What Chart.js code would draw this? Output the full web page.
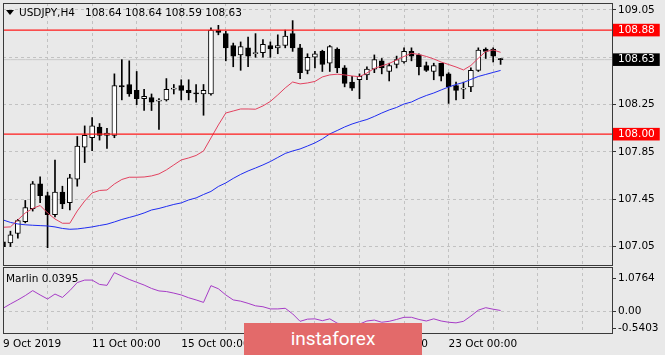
<!DOCTYPE html>
<html>
<head>
<meta charset="utf-8">
<title>USDJPY H4</title>
<script src="https://cdn.jsdelivr.net/npm/chart.js@4.4.1/dist/chart.umd.min.js"></script>
<style>
  html, body { margin: 0; padding: 0; background: #e9e9e9; }
  #wrap { position: relative; width: 665px; height: 355px; overflow: hidden; }
  canvas { position: absolute; left: 0; }
  #main { top: 0; }
  #sub { top: 266px; }
  .txt { position: absolute; font: 10.5px 'DejaVu Sans', sans-serif; color: #000; white-space: pre; line-height: 13px; }
  #tri { position: absolute; left: 6px; top: 10px; width: 0; height: 0;
         border-left: 4px solid transparent; border-right: 4px solid transparent; border-top: 5px solid #000; }
  #brand { position: absolute; left: 244px; top: 323px; width: 178px; height: 33px;
           background: #e36a6a; color: #fff; font: 19px Roboto, sans-serif;
           text-align: center; line-height: 32px; }
</style>
</head>
<body>
<div id="wrap">
  <canvas id="main" width="665" height="266"></canvas>
  <canvas id="sub" width="665" height="89"></canvas>
  <div id="tri"></div>
  <div class="txt" id="symbol" style="left:19px; top:6px;">USDJPY,H4</div>
  <div class="txt" id="ohlc" style="left:85px; top:6px;"></div>
  <div class="txt" id="osc" style="left:6px; top:272px;"></div>
  <div id="brand">instaforex</div>
</div>
<script>
// 68 H4 bars, plus empty slots to the right edge of the chart
const slotCount = 83;
const slots = Array.from({ length: slotCount }, (_, i) => i);

const opens = [107.09, 107.08, 107.16, 107.26, 107.37, 107.58, 107.48, 107.32, 107.51, 107.42,
  107.62, 107.89, 107.97, 108.06, 107.99, 107.99, 108.41, 108.42, 108.37, 108.30,
  108.31, 108.28, 108.29, 108.38, 108.41, 108.37, 108.35, 108.34, 108.34, 108.88,
  108.85, 108.75, 108.67, 108.73, 108.68, 108.69, 108.75, 108.73, 108.75, 108.85,
  108.73, 108.54, 108.65, 108.70, 108.60, 108.72, 108.56, 108.44, 108.46, 108.50,
  108.55, 108.62, 108.53, 108.59, 108.61, 108.70, 108.67, 108.58, 108.53, 108.60,
  108.51, 108.41, 108.38, 108.40, 108.54, 108.72, 108.72, 108.64];
const highs = [107.10, 107.18, 107.28, 107.44, 107.60, 107.64, 107.51, 107.78, 107.56, 107.66,
  107.98, 108.07, 108.14, 108.09, 108.05, 108.51, 108.63, 108.62, 108.53, 108.38,
  108.34, 108.30, 108.47, 108.42, 108.46, 108.46, 108.42, 108.42, 108.90, 108.92,
  108.87, 108.77, 108.78, 108.82, 108.85, 108.80, 108.78, 108.84, 108.88, 108.96,
  108.76, 108.68, 108.70, 108.71, 108.75, 108.73, 108.58, 108.49, 108.51, 108.57,
  108.67, 108.64, 108.60, 108.66, 108.73, 108.73, 108.68, 108.61, 108.60, 108.60,
  108.52, 108.44, 108.44, 108.56, 108.73, 108.73, 108.73, 108.64];
const lows = [106.94, 107.05, 107.12, 107.25, 107.35, 107.42, 107.04, 107.30, 107.37, 107.36,
  107.56, 107.76, 107.86, 107.95, 107.88, 107.97, 108.29, 108.32, 108.25, 108.20,
  108.20, 108.04, 108.28, 108.34, 108.29, 108.29, 108.27, 108.16, 108.33, 108.84,
  108.62, 108.57, 108.54, 108.57, 108.65, 108.65, 108.65, 108.68, 108.73, 108.70,
  108.47, 108.51, 108.56, 108.53, 108.53, 108.52, 108.40, 108.37, 108.30, 108.46,
  108.52, 108.51, 108.45, 108.56, 108.60, 108.62, 108.50, 108.53, 108.46, 108.45,
  108.26, 108.29, 108.30, 108.36, 108.53, 108.64, 108.61, 108.59];
const closes = [107.05, 107.15, 107.27, 107.38, 107.58, 107.48, 107.32, 107.51, 107.41, 107.63,
  107.90, 107.99, 108.07, 107.99, 108.01, 108.41, 108.40, 108.34, 108.30, 108.32,
  108.27, 108.28, 108.38, 108.39, 108.37, 108.35, 108.34, 108.37, 108.88, 108.86,
  108.73, 108.66, 108.74, 108.66, 108.69, 108.76, 108.72, 108.75, 108.83, 108.73,
  108.52, 108.65, 108.68, 108.59, 108.74, 108.56, 108.43, 108.39, 108.49, 108.55,
  108.63, 108.56, 108.58, 108.63, 108.70, 108.66, 108.57, 108.54, 108.58, 108.49,
  108.40, 108.37, 108.39, 108.54, 108.71, 108.70, 108.66, 108.63];

// moving averages (red = fast, blue = slow)
const fastMA = [107.213, 107.216, 107.275, 107.334, 107.372, 107.397, 107.334, 107.283, 107.247, 107.247,
  107.351, 107.435, 107.503, 107.524, 107.528, 107.579, 107.617, 107.636, 107.636, 107.638,
  107.647, 107.664, 107.698, 107.740, 107.782, 107.799, 107.820, 107.858, 107.968, 108.078,
  108.179, 108.196, 108.213, 108.213, 108.211, 108.239, 108.277, 108.332, 108.391, 108.441,
  108.425, 108.433, 108.446, 108.484, 108.501, 108.507, 108.501, 108.492, 108.486, 108.517,
  108.556, 108.577, 108.598, 108.627, 108.657, 108.684, 108.674, 108.657, 108.636, 108.610,
  108.589, 108.568, 108.543, 108.581, 108.642, 108.699, 108.712, 108.692];
const slowMA = [107.275, 107.254, 107.241, 107.234, 107.230, 107.227, 107.224, 107.216, 107.203, 107.196,
  107.199, 107.207, 107.216, 107.228, 107.239, 107.258, 107.279, 107.296, 107.313, 107.334,
  107.359, 107.372, 107.389, 107.406, 107.419, 107.444, 107.461, 107.490, 107.516, 107.558,
  107.588, 107.626, 107.660, 107.689, 107.714, 107.740, 107.769, 107.803, 107.837, 107.858,
  107.875, 107.900, 107.926, 107.960, 108.002, 108.031, 108.061, 108.086, 108.106, 108.124,
  108.150, 108.179, 108.205, 108.226, 108.255, 108.272, 108.302, 108.327, 108.348, 108.374,
  108.399, 108.420, 108.437, 108.463, 108.488, 108.505, 108.522, 108.539];

const marlin = [0.11, 0.25, 0.38, 0.52, 0.68, 0.54, 0.41, 0.57, 0.46, 0.68,
  0.94, 1.02, 1.02, 0.88, 0.85, 1.26, 1.15, 1.04, 0.95, 0.86,
  0.75, 0.67, 0.65, 0.60, 0.54, 0.45, 0.38, 0.30, 0.84, 0.74,
  0.54, 0.38, 0.34, 0.27, 0.19, 0.16, 0.09, 0.09, 0.11, -0.07,
  -0.31, -0.24, -0.23, -0.29, -0.23, -0.37, -0.42, -0.45, -0.40, -0.30,
  -0.27, -0.34, -0.31, -0.25, -0.18, -0.18, -0.25, -0.30, -0.23, -0.30,
  -0.34, -0.36, -0.31, -0.14, 0.05, 0.13, 0.08, 0.0395];

const levels = [108.88, 108.00];
const priceTicks = [109.05, 108.65, 108.25, 107.85, 107.45, 107.05];
const marlinTicks = [1.0764, 0, -0.5403];
const marlinTickText = ['1.0764', '0.00', '-0.5403'];
const dateTickIdx = [0, 12, 24, 36, 48, 60];
const dateTickText = ['9 Oct 2019', '11 Oct 00:00', '15 Oct 00:00', '17 Oct 00:00', '21 Oct 00:00', '23 Oct 00:00'];

const last = closes.length - 1;
const lastClose = closes[last];

document.getElementById('ohlc').textContent =
  [opens[last], highs[last], lows[last], closes[last]].map(v => v.toFixed(2)).join(' ');
document.getElementById('osc').textContent = 'Marlin ' + marlin[marlin.length - 1].toFixed(4);

Chart.defaults.font.family = "'DejaVu Sans', sans-serif";
Chart.defaults.font.size = 10.5;
Chart.defaults.color = '#000';

const GRID = '#c2c2c2';
const NONE = 'rgba(0,0,0,0)';

// one vertical grid line per trading day (6 bars)
function dayTicks(scale) {
  const t = [];
  for (let i = 0; i < slotCount; i += 6) t.push({ value: i });
  scale.ticks = t;
}

// fixed axis size, and no extra room for half-labels at the ends
function fixAxis(size) {
  return s => {
    if (s.isHorizontal()) s.height = size; else s.width = size;
    s.paddingTop = 0; s.paddingBottom = 0; s.paddingLeft = 0; s.paddingRight = 0;
  };
}

// dark frame round each plot area
const frame = {
  id: 'frame',
  afterDraw(chart) {
    const { ctx, chartArea: a } = chart;
    ctx.save();
    ctx.strokeStyle = '#3a3a3a';
    ctx.lineWidth = 1;
    ctx.strokeRect(a.left + 0.5, a.top + 0.5, a.right - a.left, a.bottom - a.top);
    ctx.restore();
  }
};

const isMarked = v => levels.includes(v) || v === lastClose;

new Chart(document.getElementById('main'), {
  type: 'bar',
  data: {
    labels: slots,
    datasets: [
      {
        type: 'line', data: slots.map(() => lastClose), borderColor: '#c9c9c9',
        borderWidth: 1, pointRadius: 0, order: 5
      },
      {
        data: lows.map((l, i) => [l, highs[i]]), backgroundColor: '#000',
        barThickness: 1, grouped: false, order: 4
      },
      {
        data: opens.map((o, i) => [o, closes[i]]),
        backgroundColor: opens.map((o, i) => closes[i] >= o ? '#fff' : '#000'),
        borderColor: '#000', borderWidth: 1, borderSkipped: false,
        barThickness: 5, minBarLength: 1, grouped: false, order: 3
      },
      {
        type: 'line', data: fastMA, borderColor: '#e2425f', borderWidth: 1,
        pointRadius: 0, tension: 0, order: 2
      },
      {
        type: 'line', data: slowMA, borderColor: '#1f2cf0', borderWidth: 1,
        pointRadius: 0, tension: 0, order: 2
      },
      ...levels.map(lv => ({
        type: 'line', data: slots.map(() => lv), borderColor: '#ff1a1a',
        borderWidth: 1.3, pointRadius: 0, order: 1
      }))
    ]
  },
  options: {
    responsive: false,
    animation: false,
    events: [],
    layout: { padding: { left: 3, top: 3, right: 0, bottom: 1 } },
    plugins: { legend: { display: false }, tooltip: { enabled: false } },
    scales: {
      x: {
        offset: false,
        afterBuildTicks: dayTicks,
        afterFit: fixAxis(0),
        grid: { color: GRID, drawTicks: false, offset: false },
        border: { display: false, dash: [3, 3] },
        ticks: { display: false, autoSkip: false }
      },
      y: {
        position: 'right',
        min: 106.894,
        max: 109.109,
        afterBuildTicks: s => {
          s.ticks = [...priceTicks, ...levels, lastClose].map(v => ({ value: v }));
        },
        afterFit: fixAxis(53),
        grid: {
          color: ctx => ctx.tick && isMarked(ctx.tick.value) ? NONE : GRID,
          tickColor: ctx => ctx.tick && isMarked(ctx.tick.value) ? NONE : '#333',
          tickLength: 4
        },
        border: { display: false, dash: [3, 3] },
        ticks: {
          autoSkip: false,
          padding: 2,
          color: ctx => ctx.tick && isMarked(ctx.tick.value) ? '#fff' : '#000',
          showLabelBackdrop: ctx => !!(ctx.tick && isMarked(ctx.tick.value)),
          backdropColor: ctx => ctx.tick && levels.includes(ctx.tick.value) ? '#ff0000' : '#000',
          backdropPadding: { left: 5, right: 5, top: 0, bottom: 0 },
          callback: v => (priceTicks.includes(v) && Math.abs(v - lastClose) < 0.05) ? '' : v.toFixed(2)
        }
      }
    }
  },
  plugins: [frame]
});

new Chart(document.getElementById('sub'), {
  type: 'line',
  data: {
    labels: slots,
    datasets: [{
      data: marlin, borderColor: '#a63cc6', borderWidth: 1, pointRadius: 0, tension: 0
    }]
  },
  options: {
    responsive: false,
    animation: false,
    events: [],
    layout: { padding: { left: 3, top: 1, right: 0, bottom: 0 } },
    plugins: { legend: { display: false }, tooltip: { enabled: false } },
    scales: {
      x: {
        offset: false,
        afterBuildTicks: dayTicks,
        afterFit: fixAxis(22),
        grid: { color: GRID, drawTicks: false, offset: false },
        border: { display: false, dash: [3, 3] },
        ticks: {
          autoSkip: false, maxRotation: 0, align: 'start', padding: 5,
          callback: v => {
            const k = dateTickIdx.indexOf(v);
            return k < 0 ? '' : dateTickText[k];
          }
        }
      },
      y: {
        position: 'right',
        min: -0.687,
        max: 1.442,
        afterBuildTicks: s => { s.ticks = marlinTicks.map(v => ({ value: v })); },
        afterFit: fixAxis(53),
        grid: {
          color: ctx => ctx.tick && ctx.tick.value === 0 ? GRID : NONE,
          tickColor: '#333',
          tickLength: 4
        },
        border: { display: false, dash: [3, 3] },
        ticks: {
          autoSkip: false,
          padding: 2,
          callback: v => marlinTickText[marlinTicks.indexOf(v)]
        }
      }
    }
  },
  plugins: [frame]
});
</script>
</body>
</html>
